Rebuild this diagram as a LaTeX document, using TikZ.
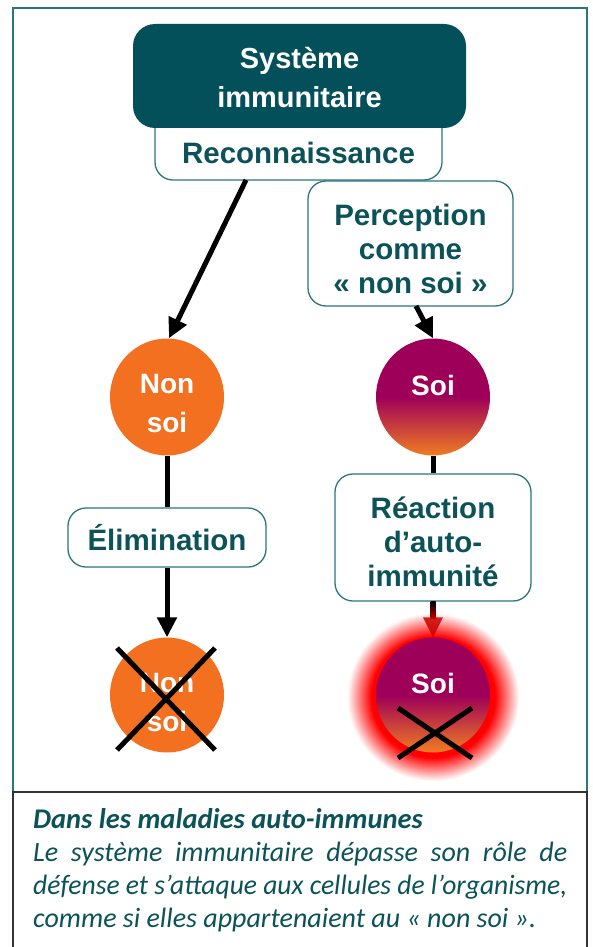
\documentclass[tikz,border=0pt]{standalone}
\usepackage{fontspec}
\usepackage{graphicx}
\setmainfont{Liberation Sans}
\newfontfamily\carl{Carlito}
\usetikzlibrary{shapes.geometric,arrows.meta,calc}
\definecolor{darkteal}{HTML}{03505A}
\definecolor{txtteal}{HTML}{0B5259}
\definecolor{brdteal}{HTML}{2A767E}
\definecolor{orng}{HTML}{F37021}
\definecolor{soipurple}{HTML}{9E0059}
\definecolor{soiorange}{HTML}{F07C22}
\pgfdeclareverticalshading{soigrad}{100bp}{color(0bp)=(soiorange); color(25bp)=(soiorange); color(50bp)=(soipurple); color(100bp)=(soipurple)}
\pgfdeclareradialshading{redglow}{\pgfpointorigin}{color(0bp)=(red); color(18bp)=(red); color(25bp)=(white); color(50bp)=(white)}
\tikzset{
  box/.style={draw=brdteal, line width=1.3pt, fill=white, rounded corners=18pt, inner sep=0pt},
  boxtext/.style={align=center, text=txtteal, font=\fontsize{29.5}{34}\selectfont\bfseries, inner sep=0pt},
  cell/.style={ellipse, inner sep=0pt},
  celltext/.style={align=center, text=white, font=\fontsize{28}{39}\selectfont\bfseries, inner sep=0pt},
  conn/.style={line width=5pt, black},
  arr/.style={conn, -{Triangle[length=20pt,width=19pt]}},
  cross/.style={line width=5pt, black}
}
\begin{document}
\begin{tikzpicture}[x=1pt,y=-1pt]
\useasboundingbox (0,0) rectangle (593,947);
% frames
\draw[brdteal, line width=1.4pt] (13,8) rectangle (587,792);
\draw[black!80, line width=1.6pt] (13,792) rectangle (587,960);
% top boxes
\node[box, minimum width=287pt, minimum height=70pt] (reco) at (298.5,145) {};
\node[boxtext] (recot) at (298.5,153) {Reconnaissance};
\node[fill=darkteal, rounded corners=22pt, minimum width=333pt, minimum height=104pt, inner sep=0pt] (sys) at (299.5,76) {};
\node[inner sep=0pt, align=center, text=white, font=\fontsize{29}{39}\selectfont\bfseries] (syst) at (299.5,78) {Système\\immunitaire};
\node[box, minimum width=205pt, minimum height=125pt] (perc) at (410.5,243.5) {};
\node[boxtext] (perct) at (410.5,249) {Perception\\comme\\« non soi »};
% cells
\node[cell, fill=orng, minimum width=114pt, minimum height=117pt] (nonsoi) at (167,397) {};
\node[celltext] (nonsoit) at (167,404) {Non\\soi};
\node[cell, shading=soigrad, shading angle=0, minimum width=114pt, minimum height=117pt] (soi) at (433,397) {};
\node[celltext] (soit) at (433,385) {Soi};
\node[box, minimum width=198pt, minimum height=59pt] (elim) at (167,537.5) {};
\node[boxtext] (elimt) at (167,538) {Élimination};
\node[box, minimum width=196pt, minimum height=127pt] (reac) at (433,537.5) {};
\node[boxtext] (react) at (433,542) {Réaction\\d’auto-\\immunité};
% bottom cells
\node[cell, fill=orng, minimum width=114pt, minimum height=115pt] (nonsoib) at (167,695) {};
\node[celltext] (nonsoibt) at (167,702) {Non\\soi};
\path[shading=redglow] (433,697) ellipse [x radius=86, y radius=84];
\node[cell, shading=soigrad, shading angle=0, minimum width=114pt, minimum height=115pt] (soib) at (433,695) {};
\node[celltext] (soibt) at (433,683) {Soi};
% connectors
\coordinate (a1s) at (246,180);
\draw[arr] (a1s) -- ($(nonsoi.north)+(2,0)$);
\coordinate (a2s) at (416,306);
\draw[arr] (a2s) -- (soi.north);
\draw[conn] (nonsoi.south) -- (elim.north);
\draw[arr] (elim.south) -- (nonsoib.north);
\draw[conn] (soi.south) -- (reac.north);
\shade[top color=black, bottom color=red!75!black] ($(reac.south)+(-2.5,0)$) rectangle ($(soib.north)+(2.5,-19)$);
\fill[red!80!black, opacity=0.85] ($(soib.north)+(-10,-20)$) -- ($(soib.north)+(10,-20)$) -- (soib.north) -- cycle;
% crosses
\draw[cross] ($(nonsoib.center)+(-50,-47)$) -- ($(nonsoib.center)+(48,55)$);
\draw[cross] ($(nonsoib.center)+(48,-47)$) -- ($(nonsoib.center)+(-50,55)$);
\draw[cross] ($(soib.center)+(-35,13)$) -- ($(soib.center)+(39,63)$);
\draw[cross] ($(soib.center)+(39,13)$) -- ($(soib.center)+(-35,63)$);
% bottom text
\node[anchor=north west, inner sep=0pt, text=txtteal, align=left,
  font=\carl\itshape\fontsize{28}{33}\selectfont] (note) at (33,808) {%
  {\bfseries\fontsize{28.5}{33}\selectfont Dans les maladies auto-immunes}\\
  \makebox[534pt][s]{Le système immunitaire dépasse son rôle de}\\
  \resizebox{534pt}{\height}{défense et s’attaque aux cellules de l’organisme,}\\
  comme si elles appartenaient au « non soi ».};
\end{tikzpicture}
\end{document}
